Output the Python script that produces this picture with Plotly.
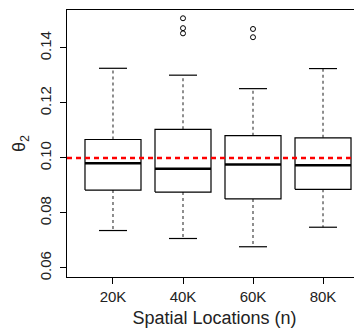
import plotly.graph_objects as go

categories = ["20K", "40K", "60K", "80K"]
lower = [0.0736, 0.0707, 0.0677, 0.0748]
q1 = [0.0883, 0.0876, 0.0851, 0.0886]
median = [0.0981, 0.0961, 0.0976, 0.0973]
q3 = [0.1067, 0.1104, 0.1081, 0.1073]
upper = [0.1326, 0.1301, 0.1252, 0.1325]
outliers = [[], [0.1508, 0.1472, 0.1453], [0.1469, 0.1439], []]
true_value = 0.10

XR = [0.343, 4.557]

fig = go.Figure()
hw = 0.4
cw = 0.2
for i, c in enumerate(categories):
    x = i + 1
    fig.add_trace(go.Scatter(x=[x, x, None, x, x], y=[q3[i], upper[i], None, q1[i], lower[i]],
                             mode="lines", line=dict(color="#333333", width=1.1, dash="3px,3px"),
                             showlegend=False, hoverinfo="skip"))
    fig.add_trace(go.Scatter(x=[x - cw, x + cw, None, x - cw, x + cw],
                             y=[upper[i], upper[i], None, lower[i], lower[i]],
                             mode="lines", line=dict(color="black", width=1.2),
                             showlegend=False, hoverinfo="skip"))
    fig.add_trace(go.Scatter(x=[x - hw, x + hw, x + hw, x - hw, x - hw],
                             y=[q1[i], q1[i], q3[i], q3[i], q1[i]],
                             mode="lines", line=dict(color="black", width=1.2),
                             showlegend=False, hoverinfo="skip"))
    fig.add_trace(go.Scatter(x=[x - hw, x + hw], y=[median[i], median[i]],
                             mode="lines", line=dict(color="black", width=2.5),
                             showlegend=False, hoverinfo="skip"))
    if outliers[i]:
        fig.add_trace(go.Scatter(x=[x] * len(outliers[i]), y=outliers[i], mode="markers",
                                 marker=dict(symbol="circle-open", size=5, color="black",
                                             line=dict(width=1)),
                                 showlegend=False, hoverinfo="skip"))

fig.add_trace(go.Scatter(x=XR, y=[true_value, true_value], mode="lines",
                         line=dict(color="red", width=2.5, dash="5px,4px"),
                         showlegend=False, hoverinfo="skip"))

fig.update_layout(
    width=354, height=321,
    margin=dict(l=59, r=0, t=2, b=52, autoexpand=False),
    plot_bgcolor="white", paper_bgcolor="white",
    font=dict(family="Liberation Sans, Arial, sans-serif", color="black"),
    xaxis=dict(range=XR, tickmode="array", tickvals=[1, 2, 3, 4],
               ticktext=categories, showgrid=False, zeroline=False, automargin=False,
               showline=True, linecolor="black", linewidth=1.2, mirror=True,
               ticks="outside", ticklen=6, tickcolor="black",
               tickfont=dict(size=15, color="#222222"),
               title=dict(text="Spatial Locations (n)", font=dict(size=18, color="#222222"), standoff=7)),
    yaxis=dict(range=[0.0567, 0.1538], tickvals=[0.06, 0.08, 0.10, 0.12, 0.14],
               ticktext=["0.06", "0.08", "0.10", "0.12", "0.14"], tickangle=-90,
               showgrid=False, zeroline=False, automargin=False,
               showline=True, linecolor="black", linewidth=1.2, mirror=False,
               ticks="outside", ticklen=6, tickcolor="black", ticklabelstandoff=3,
               tickfont=dict(size=15, color="#222222"),
               title=dict(text="θ<sub>2</sub>", font=dict(size=18, color="#222222"), standoff=6)),
)

fig.write_html("out.html")
